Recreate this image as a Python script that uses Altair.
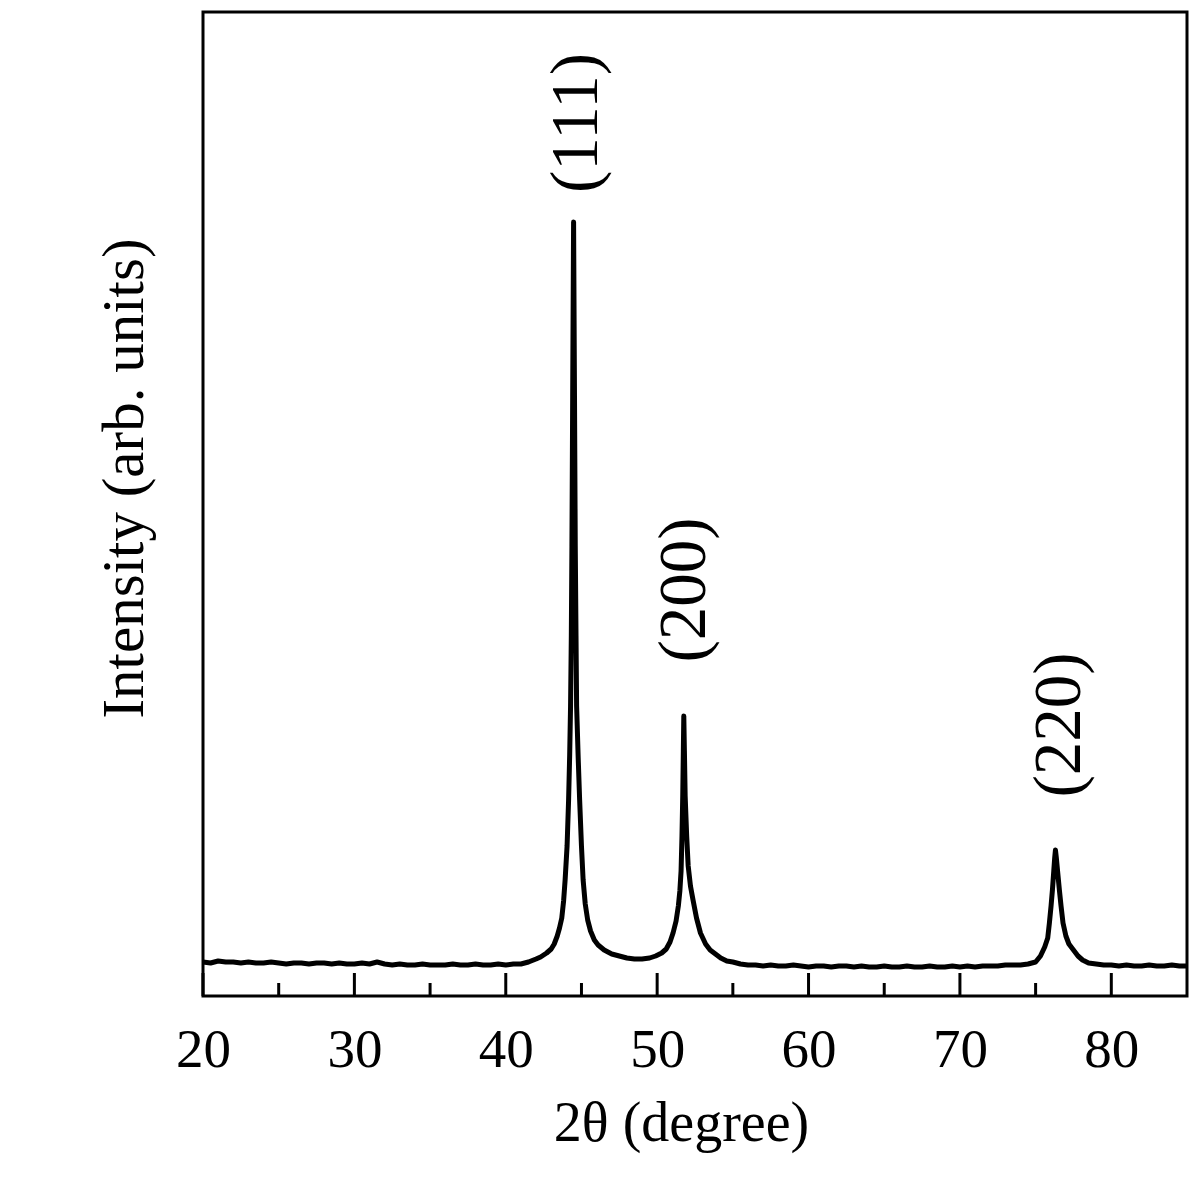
import altair as alt
import pandas as pd

# ---- data ----
two_theta = [
    20, 20.5, 21, 21.5, 22, 22.5, 23, 23.5, 24, 24.5, 25, 25.5, 26, 26.5, 27, 27.5, 28, 28.5, 29, 29.5,
    30, 30.5, 31, 31.5, 32, 32.5, 33, 33.5, 34, 34.5, 35, 35.5, 36, 36.5, 37, 37.5, 38, 38.5, 39, 39.5,
    40, 40.5, 41, 41.5, 42.0, 42.3, 42.7, 43.0, 43.2, 43.4, 43.55, 43.7, 43.82, 43.92, 44.05, 44.15,
    44.22, 44.28, 44.33, 44.37, 44.42, 44.48, 44.54, 44.59, 44.64, 44.68, 44.78, 44.88, 45.0, 45.11,
    45.25, 45.41, 45.6, 45.85, 46.1, 46.5, 47.0, 47.5, 48.0, 48.5, 49.0, 49.5, 49.9, 50.3, 50.6, 50.85,
    51.05, 51.25, 51.4, 51.5, 51.58, 51.64, 51.69, 51.73, 51.76, 51.8, 51.85, 51.95, 52.05, 52.2, 52.37,
    52.6, 52.86, 53.2, 53.5, 53.85, 54.2, 54.6, 55.0, 55.5, 56.0, 56.5, 57, 57.5, 58, 58.5, 59, 59.5,
    60, 60.5, 61, 61.5, 62, 62.5, 63, 63.5, 64, 64.5, 65, 65.5, 66, 66.5, 67, 67.5, 68, 68.5, 69, 69.5,
    70, 70.5, 71, 71.5, 72, 72.5, 73, 73.5, 74, 74.5, 75.0, 75.32, 75.6, 75.8, 75.91, 76.02, 76.11,
    76.2, 76.26, 76.31, 76.37, 76.45, 76.57, 76.68, 76.81, 77.0, 77.2, 77.5, 77.8, 78.1, 78.5, 79.0,
    79.5, 80, 80.5, 81, 81.5, 82, 82.5, 83, 83.5, 84, 84.5, 85,
]
intensity = [
    34, 33, 35, 34, 34, 33, 34, 33, 33, 34, 33, 32, 33, 33, 32, 33, 33, 32, 33, 32,
    32, 33, 32, 34, 32, 31, 32, 31, 31, 32, 31, 31, 31, 32, 31, 31, 32, 31, 31, 32,
    31, 32, 32, 34, 37, 39, 43, 47, 52, 60, 68, 78, 95, 116, 150, 196,
    240, 290, 360, 450, 600, 774, 600, 450, 360, 290, 240, 196, 150, 116,
    92, 76, 65, 56, 51, 46, 42, 40, 38, 37, 37, 38, 40, 43, 47, 54,
    63, 75, 90, 105, 125, 160, 200, 245, 280, 245, 200, 160, 130, 110, 96,
    78, 63, 52, 46, 42, 38, 35, 34, 32, 31, 31, 30, 31, 30, 30, 31, 30,
    29, 30, 30, 29, 30, 30, 29, 30, 29, 29, 30, 29, 29, 30, 29, 29, 30, 29, 29, 30,
    29, 30, 29, 30, 30, 30, 31, 31, 31, 32, 34, 40, 49, 58, 73, 90, 106,
    125, 138, 146, 138, 125, 106, 90, 73, 60, 52, 46, 40, 36, 33, 32,
    31, 31, 30, 31, 30, 30, 31, 30, 30, 31, 30, 30,
]

peak_labels = ["(111)", "(200)", "(220)"]
label_x = [46.04, 53.18, 77.9]
label_y = [873, 406, 271]

major_ticks = [20, 30, 40, 50, 60, 70, 80]
minor_ticks = [25, 35, 45, 55, 65, 75]

FONT = "Liberation Serif"
W, H = 984, 984

xscale = alt.Scale(domain=[20, 85], nice=False, zero=False)
yscale = alt.Scale(domain=[0, 984], nice=False, zero=False)

df = pd.DataFrame({"x": two_theta, "y": intensity})
lab = pd.DataFrame({"x": label_x, "y": label_y, "label": peak_labels})
maj = pd.DataFrame({"x": major_ticks})
mnr = pd.DataFrame({"x": minor_ticks})

line = alt.Chart(df).mark_line(color="black", strokeWidth=5, strokeJoin="round").encode(
    x=alt.X(
        "x:Q",
        scale=xscale,
        axis=alt.Axis(
            values=major_ticks,
            ticks=False,
            domain=False,
            grid=False,
            labelFont=FONT,
            labelFontSize=55,
            labelColor="black",
            labelBaseline="alphabetic",
            labelPadding=70,
            labelFlush=False,
            labelOverlap=False,
            title="2θ (degree)",
            titleFont=FONT,
            titleFontSize=56,
            titleFontWeight="normal",
            titleColor="black",
            titleBaseline="alphabetic",
            titleAlign="center",
            titleX=478,
            titleY=144,
        ),
    ),
    y=alt.Y(
        "y:Q",
        scale=yscale,
        axis=alt.Axis(
            labels=False,
            ticks=False,
            domain=False,
            grid=False,
            title="Intensity (arb. units)",
            titleFont=FONT,
            titleFontSize=59,
            titleFontWeight="normal",
            titleColor="black",
            titleAngle=270,
            titleBaseline="alphabetic",
            titleAlign="center",
            titleX=-61,
            titleY=466,
        ),
    ),
)

maj_ticks = alt.Chart(maj).mark_rule(color="black", strokeWidth=3).encode(
    x=alt.X("x:Q", scale=xscale),
    y=alt.value(H),
    y2=alt.value(H - 23),
)
min_ticks = alt.Chart(mnr).mark_rule(color="black", strokeWidth=3).encode(
    x=alt.X("x:Q", scale=xscale),
    y=alt.value(H),
    y2=alt.value(H - 13),
)

labels = alt.Chart(lab).mark_text(
    angle=270, align="center", baseline="alphabetic", font=FONT, fontSize=67, color="black"
).encode(
    x=alt.X("x:Q", scale=xscale),
    y=alt.Y("y:Q", scale=yscale),
    text="label:N",
)

chart = (
    alt.layer(line, maj_ticks, min_ticks, labels)
    .properties(
        width=W,
        height=H,
        autosize=alt.AutoSizeParams(type="none"),
        padding={"left": 195, "top": 4, "right": 5, "bottom": 174},
        background="white",
    )
    .configure_view(stroke="black", strokeWidth=3)
)

chart.save("out.html", embed_options={"renderer": "svg", "actions": False})
